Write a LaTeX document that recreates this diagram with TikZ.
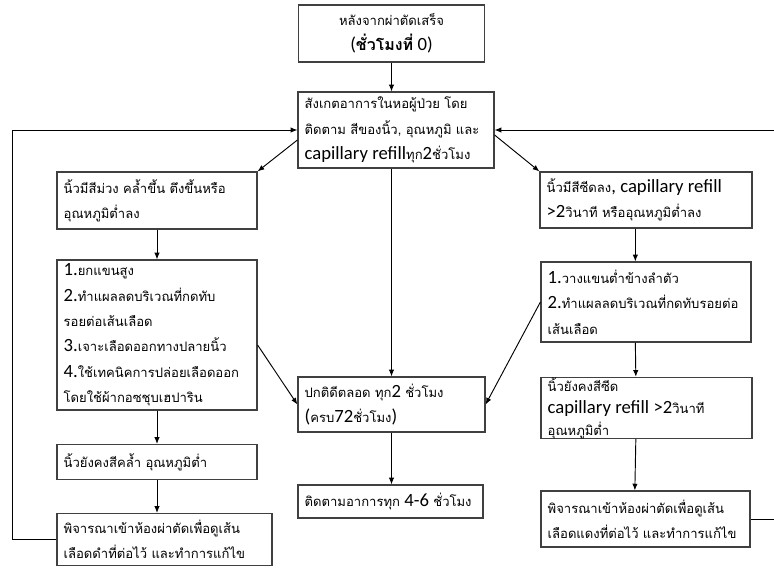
\documentclass[tikz,border=0pt]{standalone}
\usepackage{fontspec}
\setmainfont{Carlito}
\newfontfamily\thaifont[Script=Thai]{Loma}
\usetikzlibrary{arrows.meta}
\newcommand\LatB[1]{{\normalfont\fontsize{14}{19}\selectfont #1}}
\begin{document}
\begin{tikzpicture}[x=0.75pt,y=-0.75pt,
  box/.style={draw=black!75,line width=0.9pt,inner xsep=5pt,inner ysep=2pt,align=left,
    font=\thaifont\fontsize{9.8}{19}\selectfont},
  arr/.style={draw=black,line width=0.7pt,-{Latex[length=5pt,width=4pt]}},
  ln/.style={draw=black,line width=0.7pt}]
\useasboundingbox (0,0) rectangle (774,569);
\coordinate (lc) at (12,0);
\coordinate (rc) at (774,0);
% boxes
\node[box,align=center,text width=130pt,minimum height=42.75pt] (top) at (391.5,33.5)
  {หลังจากผ่าตัดเสร็จ\\{\bfseries\fontsize{12}{19}\selectfont\LatB{(}ชั่วโมงที่ \LatB{0)}}};
\node[box,text width=137pt,minimum height=57pt] (obs) at (396,130)
  {สังเกตอาการในหอผู้ป่วย โดย\\ติดตาม สีของนิ้ว, อุณหภูมิ และ\\\LatB{capillary refill}ทุก\LatB{2}ชั่วโมง};
\node[box,text width=140pt,minimum height=42.75pt] (L1) at (157,200.5)
  {นิ้วมีสีม่วง คล้ำขึ้น ตึงขึ้นหรือ\\อุณหภูมิต่ำลง};
\node[box,text width=140pt,minimum height=112.5pt] (L2) at (157,335)
  {\LatB{1.}ยกแขนสูง\\\LatB{2.}ทำแผลลดบริเวณที่กดทับ\\รอยต่อเส้นเลือด\\\LatB{3.}เจาะเลือดออกทางปลายนิ้ว\\\LatB{4.}ใช้เทคนิคการปล่อยเลือดออก\\โดยใช้ผ้ากอซชุบเฮปาริน};
\node[box,text width=140pt,minimum height=26.25pt] (L3) at (157,462)
  {นิ้วยังคงสีคล้ำ อุณหภูมิต่ำ};
\node[box,text width=151.25pt,minimum height=39pt] (L4) at (164.5,539.5)
  {พิจารณาเข้าห้องผ่าตัดเพื่อดูเส้น\\เลือดดำที่ต่อไว้ และทำการแก้ไข};
\node[box,text width=149pt,minimum height=42pt] (R1) at (646,200)
  {นิ้วมีสีซีดลง\LatB{, capillary refill}\\\LatB{>2}วินาที หรืออุณหภูมิต่ำลง};
\node[box,text width=147.5pt,minimum height=60pt] (R2) at (646,302)
  {\LatB{1.}วางแขนต่ำข้างลำตัว\\\LatB{2.}ทำแผลลดบริเวณที่กดทับรอยต่อ\\เส้นเลือด};
\node[box,text width=148.25pt,minimum height=43.5pt,inner ysep=0pt,
  font=\thaifont\fontsize{9.8}{16.5}\selectfont] (R3) at (646.5,408)
  {นิ้วยังคงสีซีด\\\LatB{capillary refill >2}วินาที\\อุณหภูมิต่ำ};
\node[box,text width=146.75pt,minimum height=42pt] (R4) at (645.5,519)
  {พิจารณาเข้าห้องผ่าตัดเพื่อดูเส้น\\เลือดแดงที่ต่อไว้ และทำการแก้ไข};
\node[box,text width=130.25pt,minimum height=41.25pt] (C1) at (391.5,404.5)
  {ปกติดีตลอด ทุก\LatB{2} ชั่วโมง\\\LatB{(}ครบ\LatB{72}ชั่วโมง\LatB{)}};
\node[box,text width=128.75pt,minimum height=24.75pt] (C2) at (390.5,501.5)
  {ติดตามอาการทุก \LatB{4-6} ชั่วโมง};
% vertical arrows
\draw[arr] (top.south) -- (top.south |- obs.north);
\draw[arr] (top.south |- obs.south) -- (top.south |- C1.north);
\draw[arr] (C1.south) -- (C1.south |- C2.north);
\draw[arr] (L1.south) -- (L2.north);
\draw[arr] (L2.south) -- (L3.north);
\draw[arr] (L3.south) -- (L3.south |- L4.north);
\draw[arr] ([xshift=-8pt]R1.south) -- ([xshift=-8pt]R2.north);
\draw[arr] ([xshift=-8pt]R2.south) -- ([xshift=-8pt]R3.north);
\draw[arr] ([xshift=-8pt]R3.south) -- ([xshift=-8pt]R4.north);
% diagonals
\draw[arr] ([yshift=-7.5pt]obs.west) -- (L1.north east);
\draw[arr] ([yshift=-3.75pt]obs.east) -- (R1.north west);
\draw[arr] ([yshift=-7.5pt]L2.east) -- (C1.west);
\draw[arr] (R2.west) -- (C1.east);
% loops
\draw[arr] (L4.west) -- (L4.west -| lc) |- (obs.west);
\draw[arr] (rc |- obs.east) -- (obs.east);
\draw[ln] (R4.east) -- (R4.east -| rc);
\end{tikzpicture}
\end{document}
